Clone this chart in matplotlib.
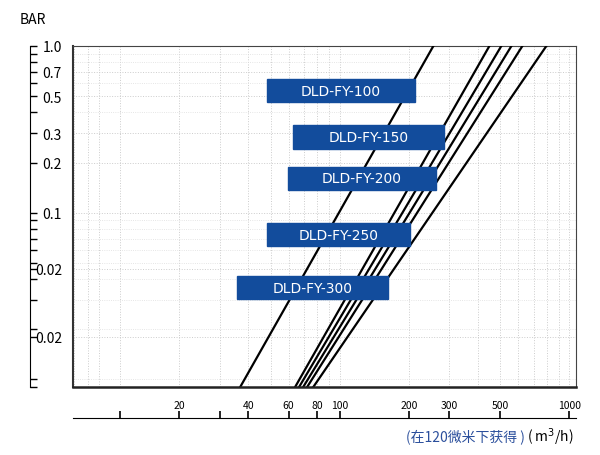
import matplotlib
matplotlib.use("Agg")
import matplotlib.pyplot as plt
from matplotlib.patches import Rectangle
from matplotlib.ticker import FixedLocator, NullFormatter, LogLocator

plt.rcParams['font.family'] = ['Noto Sans CJK SC', 'DejaVu Sans']

models = ["DLD-FY-100", "DLD-FY-150", "DLD-FY-200", "DLD-FY-250", "DLD-FY-300"]
# straight lines on log-log: (flow at 0.009 bar, flow at 1.0 bar)
line_flow_low = [36.9, 64.0, 66.6, 69.4, 72.2, 76.8]
line_flow_high = [256, 449, 506, 560, 625, 795]
p_low, p_high = 0.009, 1.0

x_ticks = [11, 20, 30, 40, 60, 80, 100, 200, 300, 500, 1000]
x_labels = ["", "20", "", "40", "60", "80", "100", "200", "300", "500", "1000"]
y_ticks = [1.0, 0.7, 0.5, 0.3, 0.2, 0.1, 0.046, 0.018]
y_labels = ["1.0", "0.7", "0.5", "0.3", "0.2", "0.1", "0.02", "0.02"]

fig = plt.figure(figsize=(6, 4.56), dpi=100)
ax = fig.add_axes([73/600, 68/456, 503/600, 341/456])
ax.set_xscale('log'); ax.set_yscale('log')
ax.set_xlim(6.9, 1070); ax.set_ylim(p_low, p_high)

for a, b in zip(line_flow_low, line_flow_high):
    ax.plot([a, b], [p_low, p_high], color='black', lw=1.6, zorder=3)

ax.grid(True, which='both', color='#cccccc', ls=':', lw=0.7)

ax.spines['left'].set_position(('outward', 31))
ax.spines['bottom'].set_position(('outward', 22.3))
ax.spines['right'].set_color('#444444'); ax.spines['top'].set_color('#444444')
ax.axvline(6.9, color='#333333', lw=1.5, clip_on=False)
ax.axhline(p_low, color='#222222', lw=1.8, clip_on=False, zorder=4)

ax.xaxis.set_major_locator(FixedLocator(x_ticks))
ax.set_xticklabels(x_labels)
ax.xaxis.set_minor_formatter(NullFormatter())
ax.tick_params(axis='x', which='minor', length=0)
ax.tick_params(axis='x', which='major', direction='in', length=5, pad=-13, labelsize=7.5, width=1.2)

ax.yaxis.set_major_locator(FixedLocator(y_ticks))
ax.set_yticklabels(y_labels)
ax.yaxis.set_minor_locator(LogLocator(subs=[1, 2, 3, 4, 5, 6, 7, 8, 9], numticks=10))
ax.yaxis.set_minor_formatter(NullFormatter())
ax.tick_params(axis='y', which='both', direction='in', length=5, pad=-23, labelsize=10, width=1)
for lab in ax.get_yticklabels():
    lab.set_horizontalalignment('right')
ax.yaxis.grid(True, which='minor', color='#dddddd', ls=':', lw=0.6)

boxes = [(0.386, 0.836, 0.294, 0.067), (0.437, 0.698, 0.300, 0.070),
         (0.427, 0.578, 0.294, 0.067), (0.386, 0.413, 0.284, 0.067),
         (0.326, 0.258, 0.300, 0.067)]
for name, (x0, y0, w, h) in zip(models, boxes):
    ax.add_patch(Rectangle((x0, y0), w, h, transform=ax.transAxes, color='#124c9c', zorder=5))
    ax.text(x0 + w/2, y0 + h/2, name, transform=ax.transAxes, color='white',
            ha='center', va='center', fontsize=10, zorder=6, family=['DejaVu Sans'])

fig.text(20/600, 1 - 20/456, "BAR", fontsize=10, ha='left', va='center')
fig.text(525/600, 1 - 437/456, "(在120微米下获得 )", color='#2b4f9c', fontsize=10, ha='right', va='center')
fig.text(527/600, 1 - 437/456, "( m$^3$/h)", color='black', fontsize=10, ha='left', va='center')

fig.savefig("out.png", dpi=100)
